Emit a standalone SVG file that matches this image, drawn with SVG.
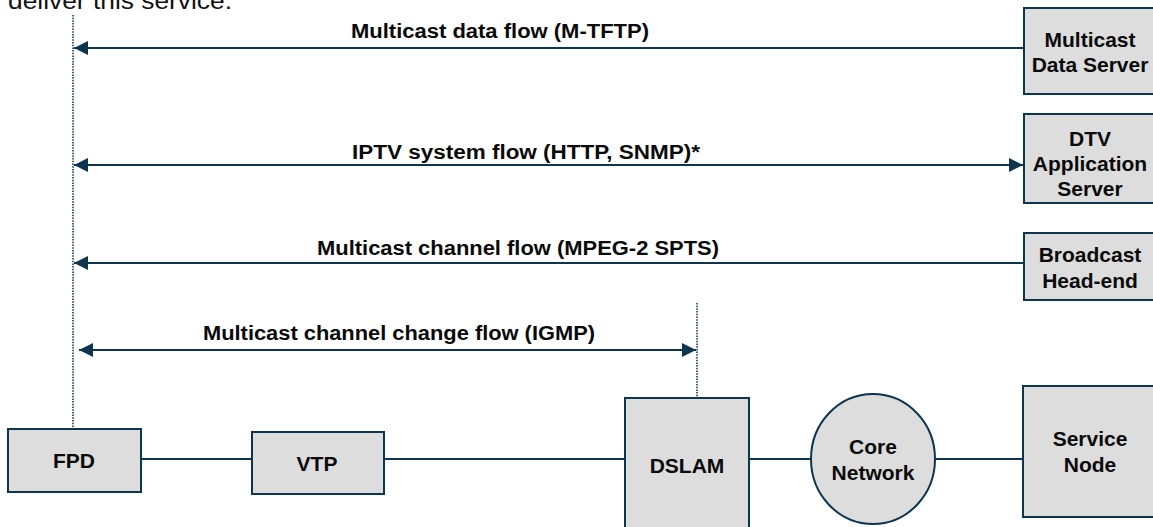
<svg xmlns="http://www.w3.org/2000/svg" width="1153" height="527" viewBox="0 0 1153 527">
<style>
.box{fill:#dddddd;stroke:#0e3550;stroke-width:2}
.ln{stroke:#0e3550;stroke-width:2;fill:none}
.dot{stroke:#1a3c55;stroke-width:1.6;stroke-dasharray:1.5 1.2;fill:none}
.t{font-family:"Liberation Sans",Arial,sans-serif;font-weight:bold;font-size:21px;fill:#0a0a0a;text-anchor:middle}
.lbl{font-family:"Liberation Sans",Arial,sans-serif;font-weight:bold;font-size:20px;fill:#0a0a0a;text-anchor:middle}
.top{font-family:"Liberation Sans",Arial,sans-serif;font-size:24px;fill:#111}
</style>
<defs>
<marker id="ah" viewBox="0 0 14 14" refX="14" refY="7" markerWidth="14" markerHeight="14" markerUnits="userSpaceOnUse" orient="auto-start-reverse">
<path d="M0,0 L14,7 L0,14 z" fill="#0e3550"/>
</marker>
</defs>
<rect width="1153" height="527" fill="#ffffff"/>
<text class="top" x="8" y="9" textLength="224" lengthAdjust="spacingAndGlyphs">deliver this service.</text>

<g id="connectors">
<line class="dot" x1="73" y1="15" x2="73" y2="428"/>
<line class="dot" x1="697" y1="303" x2="697" y2="398"/>
<line class="ln" x1="1024" y1="48" x2="74" y2="48" marker-end="url(#ah)"/>
<line class="ln" x1="74" y1="165" x2="1023" y2="165" marker-start="url(#ah)" marker-end="url(#ah)"/>
<line class="ln" x1="1024" y1="263" x2="74" y2="263" marker-end="url(#ah)"/>
<line class="ln" x1="79" y1="350" x2="696" y2="350" marker-start="url(#ah)" marker-end="url(#ah)"/>
<line class="ln" x1="141" y1="459" x2="252" y2="459"/>
<line class="ln" x1="384" y1="459" x2="625" y2="459"/>
<line class="ln" x1="749" y1="459" x2="811" y2="459"/>
<line class="ln" x1="935" y1="459" x2="1023" y2="459"/>
<text class="lbl" x="500" y="38" textLength="298" lengthAdjust="spacingAndGlyphs">Multicast data flow (M-TFTP)</text>
<text class="lbl" x="526" y="159" textLength="348" lengthAdjust="spacingAndGlyphs">IPTV system flow (HTTP, SNMP)*</text>
<text class="lbl" x="518" y="255" textLength="402" lengthAdjust="spacingAndGlyphs">Multicast channel flow (MPEG-2 SPTS)</text>
<text class="lbl" x="399" y="340" textLength="392" lengthAdjust="spacingAndGlyphs">Multicast channel change flow (IGMP)</text>
</g>

<g id="mcast-data-server">
<rect class="box" x="1024" y="8" width="140" height="86"/>
<text class="t" x="1090" y="47">Multicast</text>
<text class="t" x="1090" y="72">Data Server</text>
</g>
<g id="dtv-app-server">
<rect class="box" x="1024" y="114" width="140" height="89"/>
<text class="t" x="1090" y="146">DTV</text>
<text class="t" x="1090" y="171">Application</text>
<text class="t" x="1090" y="196">Server</text>
</g>
<g id="broadcast-headend">
<rect class="box" x="1024" y="233" width="140" height="67"/>
<text class="t" x="1090" y="262">Broadcast</text>
<text class="t" x="1090" y="288">Head-end</text>
</g>
<g id="fpd">
<rect class="box" x="8" y="429" width="133" height="63"/>
<text class="t" x="74" y="468">FPD</text>
</g>
<g id="vtp">
<rect class="box" x="252" y="432" width="132" height="62"/>
<text class="t" x="317" y="471">VTP</text>
</g>
<g id="dslam">
<rect class="box" x="625" y="398" width="124" height="140"/>
<text class="t" x="687" y="473">DSLAM</text>
</g>
<g id="core-network">
<ellipse class="box" cx="873" cy="459" rx="62" ry="65"/>
<text class="t" x="873" y="454">Core</text>
<text class="t" x="873" y="480">Network</text>
</g>
<g id="service-node">
<rect class="box" x="1023" y="386" width="140" height="131"/>
<text class="t" x="1090" y="446">Service</text>
<text class="t" x="1090" y="472">Node</text>
</g>
</svg>
